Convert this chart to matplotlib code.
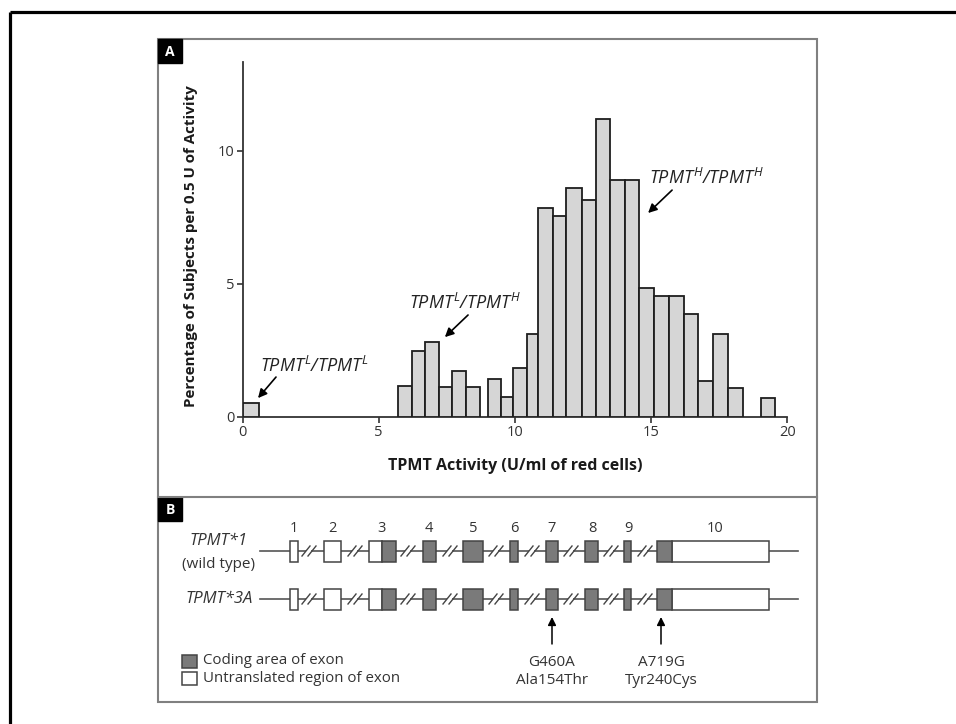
import matplotlib
matplotlib.use('Agg')
import matplotlib.pyplot as plt
from matplotlib.patches import Rectangle
import numpy as np

plt.rcParams['font.family'] = ['Open Sans', 'DejaVu Sans']
plt.rcParams['mathtext.fontset'] = 'custom'
plt.rcParams['mathtext.it'] = 'Open Sans:italic'
plt.rcParams['mathtext.rm'] = 'Open Sans:italic'

# ---------------- data: panel A histogram ----------------
bar_left = [0.00, 5.70, 6.21, 6.71, 7.22, 7.69, 8.21, 9.01, 9.50, 9.94, 10.43, 10.86, 11.41,
            11.89, 12.45, 12.96, 13.48, 14.03, 14.55, 15.12, 15.67, 16.19, 16.74, 17.26, 17.81, 19.03]
bar_right = [0.61, 6.21, 6.71, 7.22, 7.69, 8.21, 8.73, 9.50, 9.94, 10.43, 10.86, 11.41, 11.89,
             12.45, 12.96, 13.48, 14.03, 14.55, 15.12, 15.67, 16.19, 16.74, 17.26, 17.81, 18.37, 19.55]
pct = [0.51, 1.16, 2.46, 2.81, 1.12, 1.71, 1.12, 1.44, 0.74, 1.85, 3.13, 7.85, 7.56,
       8.60, 8.16, 11.19, 8.90, 8.90, 4.84, 4.55, 4.55, 3.88, 1.34, 3.13, 1.10, 0.73]
x_ticks = [0, 5, 10, 15, 20]
y_ticks = [0, 5, 10]

genotype_labels = [r'$TPMT^{L}/TPMT^{L}$', r'$TPMT^{L}/TPMT^{H}$', r'$TPMT^{H}/TPMT^{H}$']
genotype_text_xy = [(2.66, 1.92), (8.17, 4.28), (17.03, 8.97)]
genotype_arrow_tail = [(1.23, 1.50), (8.28, 3.83), (15.77, 8.52)]
genotype_arrow_head = [(0.57, 0.71), (7.43, 3.00), (14.89, 7.66)]

# ---------------- data: panel B gene structure ----------------
exon_names = ['1', '2', '3', '4', '5', '6', '7', '8', '9', '10']
utr_start = [290, 324, 369, None, None, None, None, None, None, 672]
utr_end = [298, 341, 382, None, None, None, None, None, None, 769]
cds_start = [None, None, 382, 423, 463, 510, 546, 585, 624, 657]
cds_end = [None, None, 396, 436, 483, 518, 558, 598, 631, 672]
exon_label_x = [294, 332, 382, 429, 473, 514, 552, 592, 628, 715]
break_x = [309, 355, 408, 450, 496, 532, 571, 611, 645]
alleles = ['TPMT*1', 'TPMT*3A']
allele_row_y = [551, 599]
mutation_x = [552, 661]
mutation_nt = ['G460A', 'A719G']
mutation_aa = ['Ala154Thr', 'Tyr240Cys']

W, H = 956, 724
fig = plt.figure(figsize=(W / 100, H / 100), dpi=100)
bg = fig.add_axes([0, 0, 1, 1])
bg.set_xlim(0, W)
bg.set_ylim(H, 0)
bg.axis('off')

# outer frame (left and top)
bg.plot([10, W], [12, 12], color='black', lw=2.3, solid_capstyle='butt')
bg.plot([10, 10], [12, H], color='black', lw=2.3, solid_capstyle='butt')

# panel border
panel_col = '#808080'
bg.add_patch(Rectangle((158, 39), 659, 663, fill=False, ec=panel_col, lw=1.5))
bg.plot([158, 817], [497, 497], color=panel_col, lw=1.5)
for lab, y0 in [('A', 39), ('B', 497)]:
    bg.add_patch(Rectangle((158, y0), 24, 24, fc='black', ec='black'))
    bg.text(170, y0 + 12.5, lab, color='white', fontsize=10, fontweight='bold',
            ha='center', va='center')

# ---------------- panel A ----------------
ax = fig.add_axes([242.5 / W, 1 - 417 / H, 544.8 / W, 355 / H])
ax.patch.set_visible(False)
left = np.array(bar_left)
right = np.array(bar_right)
ax.bar(left, pct, width=right - left, align='edge', color='#d6d6d6',
       edgecolor='#1e1e1e', linewidth=1.3, zorder=3)
ax.set_xlim(0, 20)
ax.set_ylim(0, 13.33)
for s in ['top', 'right']:
    ax.spines[s].set_visible(False)
for s in ['left', 'bottom']:
    ax.spines[s].set_linewidth(1.3)
    ax.spines[s].set_color('#333333')
ax.set_xticks(x_ticks)
ax.set_yticks(y_ticks)
ax.set_xticklabels([str(v) for v in x_ticks])
ax.set_yticklabels([str(v) for v in y_ticks])
ax.tick_params(direction='out', length=4, width=1.2, color='#333333',
               labelsize=10.5, labelcolor='#333333', pad=2)
for spine in ax.spines.values():
    spine.set_clip_on(False)

for lab, txy, tail, head in zip(genotype_labels, genotype_text_xy,
                                genotype_arrow_tail, genotype_arrow_head):
    ax.text(txy[0], txy[1], lab, fontsize=13, ha='center', va='center', color='#222222')
    ax.annotate('', xy=head, xytext=tail,
                arrowprops=dict(arrowstyle='-|>', color='black', lw=1.2,
                                mutation_scale=13, shrinkA=0, shrinkB=0))

bg.text(515, 466, 'TPMT Activity (U/ml of red cells)', fontsize=11.5, fontweight='bold',
        ha='center', va='center', color='#1a1a1a')
bg.text(191, 246, 'Percentage of Subjects per 0.5 U of Activity', fontsize=10.9,
        fontweight='bold', rotation=90, ha='center', va='center', color='#1a1a1a')

# ---------------- panel B ----------------
h = 21
for ry in allele_row_y:
    bg.plot([260, 798], [ry, ry], color='#555555', lw=1.2, zorder=1)
    for s, e in zip(utr_start, utr_end):
        if s is not None:
            bg.add_patch(Rectangle((s, ry - h / 2), e - s, h, fc='white', ec='#444444',
                                   lw=1.1, zorder=3))
    for s, e in zip(cds_start, cds_end):
        if s is not None:
            bg.add_patch(Rectangle((s, ry - h / 2), e - s, h, fc='#7a7a7a', ec='#444444',
                                   lw=1.1, zorder=3))
    for bx in break_x:
        bg.add_patch(Rectangle((bx - 2.5, ry - 2), 5, 4, fc='white', ec='none', zorder=2))
        for d in (-3, 3):
            bg.plot([bx + d - 4, bx + d + 4], [ry + 5, ry - 5], color='#444444',
                    lw=1.0, zorder=4)

for name, lx in zip(exon_names, exon_label_x):
    bg.text(lx, 528, name, fontsize=10.5, ha='center', va='center', color='#333333')

bg.text(219, 541, 'TPMT*1', fontsize=12, style='italic', ha='center', va='center',
        color='#333333')
bg.text(219, 565, '(wild type)', fontsize=11, ha='center', va='center', color='#333333')
bg.text(253, 599, 'TPMT*3A', fontsize=12, style='italic', ha='right', va='center',
        color='#333333')

for mx, nt, aa in zip(mutation_x, mutation_nt, mutation_aa):
    bg.annotate('', xy=(mx, 617), xytext=(mx, 644),
                arrowprops=dict(arrowstyle='-|>', color='black', lw=1.1,
                                mutation_scale=12, shrinkA=0, shrinkB=0))
    bg.text(mx, 662, nt, fontsize=11, ha='center', va='center', color='#333333')
    bg.text(mx, 681, aa, fontsize=11, ha='center', va='center', color='#333333')

bg.add_patch(Rectangle((182, 655), 15, 13, fc='#7a7a7a', ec='#444444', lw=1.1))
bg.add_patch(Rectangle((182, 672), 15, 13, fc='white', ec='#444444', lw=1.1))
bg.text(203, 661, 'Coding area of exon', fontsize=10.8, ha='left', va='center', color='#333333')
bg.text(203, 679, 'Untranslated region of exon', fontsize=10.8, ha='left', va='center',
        color='#333333')

fig.savefig('out.png', dpi=100)
